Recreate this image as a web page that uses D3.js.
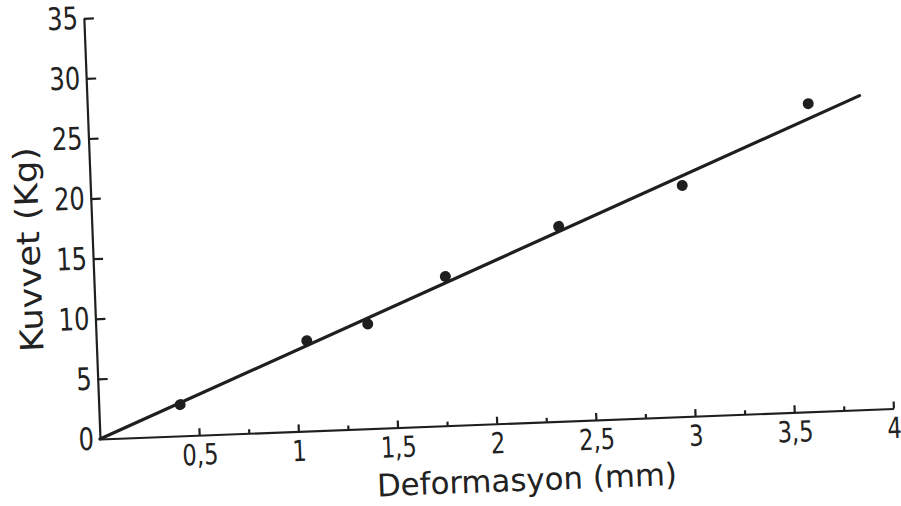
<html>
<head>
	<meta charset="utf-8">
	<title>Kuvvet - Deformasyon</title>
	<script src="https://d3js.org/d3.v7.min.js"></script>
	<style>
		body { margin: 0; background: #fff; }
		text { font-family: "DejaVu Sans", sans-serif; fill: #222; }
	</style>
</head>
<body>
	<svg id="chart" width="901" height="506"></svg>

	<script type="text/javascript">
		// measured values (deformation in mm, force in kg)
		var deform = [0.41, 1.06, 1.37, 1.77, 2.35, 2.98, 3.63]
		var force = [2.6, 7.5, 8.7, 12.4, 16.2, 19.2, 25.6]
		// fitted straight line, start and end
		var fitX = [0, 3.89]
		var fitY = [0, 26.1]
		// axis ticks
		var xMajor = [0.5, 1, 1.5, 2, 2.5, 3, 3.5, 4]
		var xMinor = [0.75, 1.25, 1.75, 2.25, 2.75, 3.25, 3.75]
		var yTicks = [0, 5, 10, 15, 20, 25, 30, 35]

		var ink = "#1f1f1f"
		var svg = d3.select("#chart")

		// the scanned page is slightly rotated, so the whole plot is too
		var g = svg.append("g")
			.attr("transform", "translate(100,439) rotate(-2.2)")

		var x = d3.scaleLinear().domain([0, 4]).range([0, 794])
		var y = d3.scaleLinear().domain([0, 35]).range([0, -421])

		var comma = d => String(d).replace(".", ",")

		// y axis: ticks point inward, labels on the left
		var yAxis = g.append("g")
			.call(d3.axisLeft(y).tickValues(yTicks).tickFormat(d => d)
				.tickSizeInner(-10).tickSizeOuter(0).tickPadding(6))
		yAxis.selectAll("text")
			.attr("x", -6 / 0.78)
			.attr("transform", "scale(0.78,1)")
			.style("font-size", "31px")
		yAxis.selectAll(".tick").filter(d => d == 0).select("line").remove()

		// x axis minor ticks
		g.append("g")
			.call(d3.axisBottom(x).tickValues(xMinor).tickFormat("")
				.tickSizeInner(-4).tickSizeOuter(0))
			.select(".domain").remove()

		// x axis major ticks with comma decimals
		var xAxis = g.append("g")
			.call(d3.axisBottom(x).tickValues(xMajor).tickFormat(comma)
				.tickSizeInner(-7).tickSizeOuter(0).tickPadding(9))
		xAxis.selectAll("text")
			.attr("transform", "scale(0.78,1)")
			.style("font-size", "29px")

		g.selectAll(".domain, .tick line")
			.attr("stroke", ink)
			.attr("stroke-width", 2.2)
		g.selectAll(".tick text").style("fill", "#222")

		// fitted line
		var line = d3.line().x(d => x(d[0])).y(d => y(d[1]))
		g.append("path")
			.datum(d3.zip(fitX, fitY))
			.attr("d", line)
			.attr("fill", "none")
			.attr("stroke", ink)
			.attr("stroke-width", 3.2)
			.attr("stroke-linecap", "round")

		// measured points
		g.selectAll("circle")
			.data(d3.zip(deform, force))
			.enter()
			.append("circle")
			.attr("cx", d => x(d[0]))
			.attr("cy", d => y(d[1]))
			.attr("r", 5.5)
			.attr("fill", ink)

		// axis titles
		g.append("text")
			.attr("x", 425)
			.attr("y", 68)
			.attr("text-anchor", "middle")
			.attr("textLength", 300)
			.attr("lengthAdjust", "spacingAndGlyphs")
			.style("font-size", "31px")
			.text("Deformasyon (mm)")

		g.append("text")
			.attr("transform", "translate(-53,-192) rotate(-90)")
			.attr("text-anchor", "middle")
			.attr("textLength", 205)
			.attr("lengthAdjust", "spacingAndGlyphs")
			.style("font-size", "32px")
			.text("Kuvvet (Kg)")
	</script>
</body>
</html>
